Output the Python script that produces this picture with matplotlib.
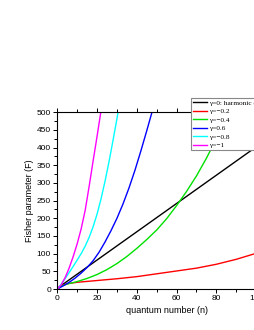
import numpy as np
import matplotlib
matplotlib.use("Agg")
import matplotlib.pyplot as plt
from matplotlib.ticker import MultipleLocator

# values
n_h = [0, 20, 40, 60, 80, 100, 110]
F_h = [2, 82, 162, 242, 322, 402, 442]

n_02 = [0, 2, 5, 10, 20, 30, 40, 50, 60, 70, 80, 90, 100, 110]
F_02 = [0, 10, 15, 19, 24, 29, 35, 43, 51, 59, 70, 84, 101, 120]

n_04 = [0, 2, 5, 10, 15, 20, 25, 30, 35, 40, 45, 50, 55, 60, 65, 70, 75, 80, 85, 88]
F_04 = [0, 8, 14, 21, 30, 41, 55, 72, 92, 115, 140, 167, 199, 236, 276, 320, 370, 425, 485, 520]

n_06 = [0, 3, 6, 9, 12, 15, 18, 21, 24, 27, 30, 33, 36, 39, 42, 45, 48]
F_06 = [0, 9, 19, 31, 45, 61, 80, 104, 133, 165, 200, 240, 285, 335, 390, 448, 508]

n_08 = [0, 2, 4, 6, 8, 10, 12, 14, 16, 18, 20, 22, 24, 26, 28, 30, 31]
F_08 = [0, 14, 30, 47, 64, 82, 100, 121, 146, 176, 212, 255, 305, 360, 420, 482, 515]

n_10 = [0, 2, 4, 6, 8, 10, 12, 14, 16, 18, 20, 22]
F_10 = [0, 12, 33, 60, 92, 128, 170, 222, 290, 362, 432, 505]

labels = ["\u03b3=0: harmonic oscillator", "\u03b3=\u22120.2", "\u03b3=\u22120.4",
          "\u03b3=0.6", "\u03b3=\u22120.8", "\u03b3=\u22121"]
colors = ["black", "#ff0000", "#00e000", "#0000ff", "#00ffff", "#ff00ff"]


def main():
    fig = plt.figure(figsize=(2.55, 3.3), dpi=100)
    # axes run past the right edge of the picture, as in the reference
    ax = fig.add_axes([57.3 / 255, 1 - 289 / 330, 218.7 / 255, 176.7 / 330])

    series = [(n_h, F_h), (n_02, F_02), (n_04, F_04), (n_06, F_06), (n_08, F_08), (n_10, F_10)]
    for (x, y), lab, c in zip(series, labels, colors):
        ax.plot(x, y, color=c, lw=1.0, label=lab)

    ax.set_xlim(0, 110)
    ax.set_ylim(0, 500)
    ax.xaxis.set_major_locator(MultipleLocator(20))
    ax.xaxis.set_minor_locator(MultipleLocator(10))
    ax.yaxis.set_major_locator(MultipleLocator(50))
    ax.yaxis.set_minor_locator(MultipleLocator(25))
    ax.tick_params(which="both", direction="out", top=True, width=0.7, pad=1.5)
    ax.tick_params(which="major", length=3)
    ax.tick_params(which="minor", length=2)
    ax.spines["right"].set_visible(False)
    for s in ["left", "bottom", "top"]:
        ax.spines[s].set_linewidth(0.8)

    for lab in ax.get_xticklabels() + ax.get_yticklabels():
        lab.set_fontfamily("Liberation Sans")
        lab.set_fontsize(6)

    ax.set_xlabel("quantum number (n)", fontfamily="Liberation Sans", fontsize=6.5, labelpad=3)
    ax.set_ylabel("Fisher parameter (F)", fontfamily="Liberation Sans", fontsize=6.5, labelpad=2)

    h, l = ax.get_legend_handles_labels()
    leg = fig.legend(h, l, loc="upper left", bbox_to_anchor=(191 / 255, 1 - 97.7 / 330),
                     borderaxespad=0, borderpad=0.25, handlelength=2.0, handletextpad=0.3,
                     labelspacing=0.35, fancybox=False, framealpha=1,
                     prop={"family": "Liberation Serif", "size": 5.2})
    leg.get_frame().set_edgecolor("#888888")
    leg.get_frame().set_linewidth(0.8)

    fig.savefig("out.png", dpi=100)


if __name__ == "__main__":
    main()
